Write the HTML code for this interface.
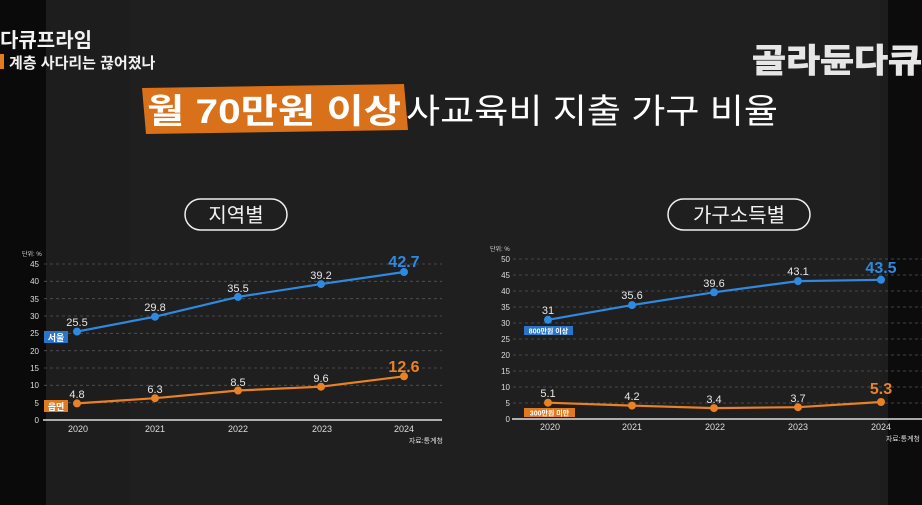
<!DOCTYPE html>
<html><head><meta charset="utf-8"><style>
html,body{margin:0;padding:0;background:#1c1c1c;}
svg{display:block;font-family:"Liberation Sans","Noto Sans CJK KR",sans-serif;}
</style></head><body>
<svg width="922" height="505" viewBox="0 0 922 505" xmlns="http://www.w3.org/2000/svg">
<rect width="922" height="505" fill="#1d1d1d"/>
<rect x="0" y="0" width="46" height="505" fill="#0a0a0a"/>
<rect x="888" y="0" width="34" height="505" fill="#0c0c0c"/>
<rect x="130" y="0" width="750" height="505" fill="#1f1f1f"/>
<text x="0" y="47" font-size="20" font-weight="bold" fill="#f2f2f2">다큐프라임</text>
<rect x="0" y="54" width="4" height="15" fill="#e37b1c"/>
<text x="9" y="68" font-size="15" font-weight="bold" fill="#f2f2f2">계층 사다리는 끊어졌나</text>
<text x="752" y="72" font-size="33" font-weight="bold" fill="#e6e6e6" stroke="#e6e6e6" stroke-width="1" textLength="170" lengthAdjust="spacingAndGlyphs">골라듄다큐</text>
<path d="M142 88 L404 84 L408 130 L146 134 Z" fill="#d9701a"/>
<text x="147" y="123" font-size="34" font-weight="bold" fill="#fff" textLength="254" lengthAdjust="spacingAndGlyphs">월 70만원 이상</text>
<text x="406" y="123" font-size="34" fill="#fff" textLength="372" lengthAdjust="spacingAndGlyphs">사교육비 지출 가구 비율</text>
<rect x="185" y="199" width="102" height="31" rx="15.5" fill="none" stroke="#eee" stroke-width="1.5"/>
<text x="236" y="222" font-size="20" fill="#f2f2f2" text-anchor="middle">지역별</text>
<rect x="668" y="199" width="142" height="31" rx="15.5" fill="none" stroke="#eee" stroke-width="1.5"/>
<text x="739" y="222" font-size="20" fill="#f2f2f2" text-anchor="middle">가구소득별</text>

<g font-size="8" fill="#ddd">
<text x="22" y="256" font-size="6">단위: %</text>
<g stroke="#555" stroke-dasharray="3,3" stroke-width="0.8">
<line x1="44" x2="442" y1="264" y2="264"/><line x1="44" x2="442" y1="281.3" y2="281.3"/>
<line x1="44" x2="442" y1="298.7" y2="298.7"/><line x1="44" x2="442" y1="316" y2="316"/>
<line x1="44" x2="442" y1="333.3" y2="333.3"/><line x1="44" x2="442" y1="350.7" y2="350.7"/>
<line x1="44" x2="442" y1="368" y2="368"/><line x1="44" x2="442" y1="385.3" y2="385.3"/>
<line x1="44" x2="442" y1="402.7" y2="402.7"/></g>
<line x1="43" x2="442" y1="420" y2="420" stroke="#ddd" stroke-width="1.5"/>
<g text-anchor="end">
<text x="39" y="267">45</text><text x="39" y="284">40</text><text x="39" y="302">35</text>
<text x="39" y="319">30</text><text x="39" y="336">25</text><text x="39" y="354">20</text>
<text x="39" y="371">15</text><text x="39" y="388">10</text><text x="39" y="406">5</text><text x="39" y="423">0</text></g>
<g text-anchor="middle" font-size="9">
<text x="78" y="432">2020</text><text x="155" y="432">2021</text><text x="238" y="432">2022</text>
<text x="322" y="432">2023</text><text x="404" y="432">2024</text></g>
<text x="443" y="443" text-anchor="end" font-size="7">자료:통계청</text>
</g>
<polyline points="77,331.6 155,316.7 238,296.9 321,284.1 404,272" fill="none" stroke="#2e8ae0" stroke-width="2.2"/>
<g fill="#2e8ae0"><circle cx="77" cy="331.6" r="4"/><circle cx="155" cy="316.7" r="4"/><circle cx="238" cy="296.9" r="4"/><circle cx="321" cy="284.1" r="4"/><circle cx="404" cy="272" r="4"/></g>
<polyline points="77,403.4 155,398.2 238,390.5 321,386.7 404,376.3" fill="none" stroke="#ea8125" stroke-width="2.2"/>
<g fill="#ea8125"><circle cx="77" cy="403.4" r="4"/><circle cx="155" cy="398.2" r="4"/><circle cx="238" cy="390.5" r="4"/><circle cx="321" cy="386.7" r="4"/><circle cx="404" cy="376.3" r="4"/></g>
<g fill="#e6e6e6" font-size="11" text-anchor="middle">
<text x="77" y="326">25.5</text><text x="155" y="311">29.8</text><text x="238" y="292">35.5</text><text x="321" y="279">39.2</text>
<text x="77" y="398">4.8</text><text x="155" y="393">6.3</text><text x="238" y="386">8.5</text><text x="321" y="382">9.6</text></g>
<text x="404" y="267" font-size="16" font-weight="bold" fill="#2e8ae0" text-anchor="middle">42.7</text>
<text x="404" y="372" font-size="16" font-weight="bold" fill="#ea8125" text-anchor="middle">12.6</text>
<rect x="44" y="331" width="24" height="12" fill="#2a75c8"/>
<text x="56" y="341" font-size="9" font-weight="bold" fill="#fff" text-anchor="middle">서울</text>
<rect x="44" y="400" width="24" height="12" fill="#e07a20"/>
<text x="56" y="410" font-size="9" font-weight="bold" fill="#fff" text-anchor="middle">읍면</text>

<g font-size="8" fill="#ddd">
<text x="490" y="251" font-size="6">단위: %</text>
<g stroke="#555" stroke-dasharray="3,3" stroke-width="0.8">
<line x1="513" x2="922" y1="259" y2="259"/><line x1="513" x2="922" y1="275" y2="275"/>
<line x1="513" x2="922" y1="291" y2="291"/><line x1="513" x2="922" y1="307" y2="307"/>
<line x1="513" x2="922" y1="323" y2="323"/><line x1="513" x2="922" y1="339" y2="339"/>
<line x1="513" x2="922" y1="355" y2="355"/><line x1="513" x2="922" y1="371" y2="371"/>
<line x1="513" x2="922" y1="387" y2="387"/><line x1="513" x2="922" y1="403" y2="403"/></g>
<line x1="512" x2="922" y1="419" y2="419" stroke="#ddd" stroke-width="1.5"/>
<g text-anchor="end">
<text x="510" y="262">50</text><text x="510" y="278">45</text><text x="510" y="294">40</text>
<text x="510" y="310">35</text><text x="510" y="326">30</text><text x="510" y="342">25</text>
<text x="510" y="358">20</text><text x="510" y="374">15</text><text x="510" y="390">10</text>
<text x="510" y="406">5</text><text x="510" y="422">0</text></g>
<g text-anchor="middle" font-size="9">
<text x="550" y="430">2020</text><text x="632" y="430">2021</text><text x="715" y="430">2022</text>
<text x="798" y="430">2023</text><text x="881" y="430">2024</text></g>
<text x="920" y="441" text-anchor="end" font-size="7">자료:통계청</text>
</g>
<polyline points="548,319.8 632,305.1 714,292.3 798,281.1 881,279.8" fill="none" stroke="#2e8ae0" stroke-width="2.2"/>
<g fill="#2e8ae0"><circle cx="548" cy="319.8" r="4"/><circle cx="632" cy="305.1" r="4"/><circle cx="714" cy="292.3" r="4"/><circle cx="798" cy="281.1" r="4"/><circle cx="881" cy="279.8" r="4"/></g>
<polyline points="548,402.7 632,405.6 714,408.1 798,407.2 881,402" fill="none" stroke="#ea8125" stroke-width="2.2"/>
<g fill="#ea8125"><circle cx="548" cy="402.7" r="4"/><circle cx="632" cy="405.6" r="4"/><circle cx="714" cy="408.1" r="4"/><circle cx="798" cy="407.2" r="4"/><circle cx="881" cy="402" r="4"/></g>
<g fill="#e6e6e6" font-size="11" text-anchor="middle">
<text x="548" y="314">31</text><text x="632" y="299">35.6</text><text x="714" y="287">39.6</text><text x="798" y="275">43.1</text>
<text x="548" y="397">5.1</text><text x="632" y="400">4.2</text><text x="714" y="403">3.4</text><text x="798" y="402">3.7</text></g>
<text x="881" y="273" font-size="16" font-weight="bold" fill="#2e8ae0" text-anchor="middle">43.5</text>
<text x="881" y="394" font-size="16" font-weight="bold" fill="#ea8125" text-anchor="middle">5.3</text>
<rect x="524" y="326" width="49" height="9" fill="#2a75c8"/>
<text x="548.5" y="333.5" font-size="7" font-weight="bold" fill="#fff" text-anchor="middle">800만원 이상</text>
<rect x="524" y="408" width="51" height="9" fill="#e07a20"/>
<text x="549.5" y="415.5" font-size="7" font-weight="bold" fill="#fff" text-anchor="middle">300만원 미만</text>
</svg>
</body></html>
